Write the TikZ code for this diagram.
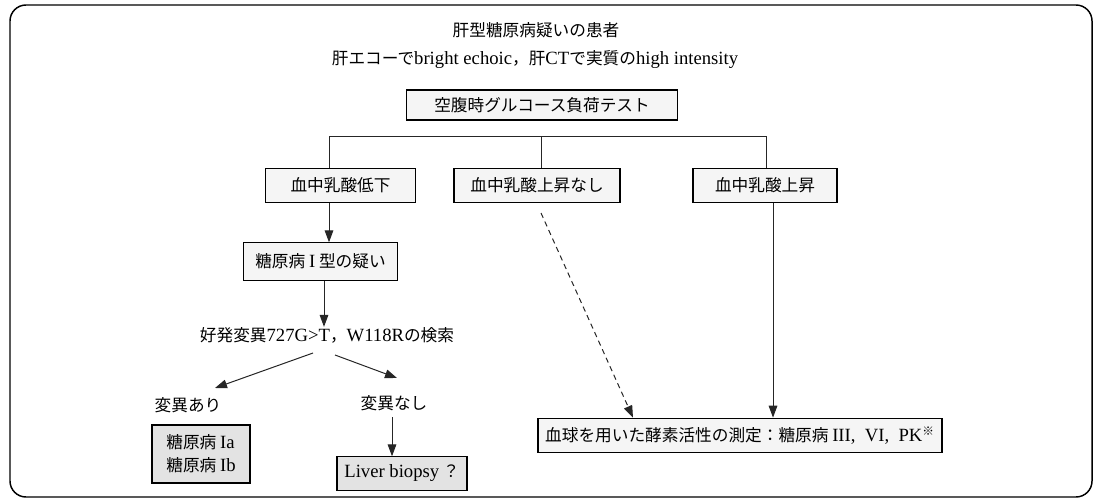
\documentclass[tikz,border=0pt]{standalone}
\usepackage{fontspec}
\setmainfont{Liberation Serif}
\newfontfamily\jp{Noto Sans CJK JP}
\newcommand\lat[1]{{\fontsize{14}{17}\selectfont\rmfamily #1}}
\usetikzlibrary{arrows.meta}
\begin{document}
\begin{tikzpicture}[x=0.75pt,y=-0.75pt,
  every node/.style={font=\fontsize{12.5}{17}\selectfont\jp, inner sep=0pt},
  box/.style={draw=black, line width=0.8pt, fill=gray!8, align=center},
  darkbox/.style={draw=black, line width=0.8pt, fill=gray!22, align=center},
  conn/.style={line width=0.75pt, draw=black!85},
  arr/.style={conn, -{Triangle[length=9pt,width=6.5pt]}},
  darr/.style={conn, dash pattern=on 4pt off 3pt, -{Triangle[length=9pt,width=6.5pt]}}]
\useasboundingbox (0,0) rectangle (1094,499);
\draw[line width=1.1pt, rounded corners=12] (10,5) rectangle (1092,497);

\node (t1) at (536,30) {肝型糖原病疑いの患者};
\node (t2) at (535,60) {肝エコーで\lat{bright echoic}，肝\lat{CT}で実質の\lat{high intensity}};
\node[box, minimum width=203pt, minimum height=22.5pt] (gtt) at (542,105) {空腹時グルコース負荷テスト};

\coordinate (hl) at (329,137);
\coordinate (hm) at (541,137);
\coordinate (hr) at (766,137);

\node[box, minimum width=112pt, minimum height=26pt] (b1) at (340.5,185.5) {血中乳酸低下};
\node[box, minimum width=124.5pt, minimum height=26pt] (b2) at (537,185.5) {血中乳酸上昇なし};
\node[box, minimum width=108pt, minimum height=26pt] (b3) at (765,185.5) {血中乳酸上昇};

\draw[conn] (b1.north -| hl) |- (hr) -- (b3.north -| hr);
\draw[conn] (hm) -- (b2.north -| hm);

\node[box, minimum width=116pt, minimum height=28pt] (g1) at (320.5,261.5) {糖原病 \lat{I} 型の疑い};
\draw[arr] (b1.south -| hl) -- (g1.north -| hl);

\node (srch) at (327,335) {好発変異\lat{727G>T}，\lat{W118R}の検索};
\draw[arr] (g1.south -| 324,0) -- (srch.north -| 324,0);

\node (mut) at (188,405) {変異あり};
\node (nomut) at (394,403) {変異なし};
\coordinate (sl) at (313,353);
\coordinate (sr) at (335,355);
\coordinate (mutend) at (215,388);
\coordinate (nomutend) at (397,378);
\draw[arr] (sl) -- (mutend);
\draw[arr] (sr) -- (nomutend);

\node[darkbox, minimum width=73.5pt, minimum height=43.5pt, align=left] (ia) at (201,454) {糖原病 \lat{Ia}\\糖原病 \lat{Ib}};
\node[darkbox, minimum width=97.5pt, minimum height=25pt] (lb) at (402,473.5) {\lat{Liver biopsy}\ ？};
\coordinate (lbtop) at (392,417);
\draw[arr] (lbtop) -- (lb.north -| lbtop);

\node[box, minimum width=303pt, minimum height=26pt] (enz) at (740,435.5) {血球を用いた酵素活性の測定：糖原病 \lat{III,\ \ VI,\ \ PK}\textsuperscript{※}};
\coordinate (dstart) at (541,213);
\draw[darr] (dstart) -- (enz.north -| 633,0);
\draw[arr] (b3.south -| 773,0) -- (enz.north -| 773,0);
\end{tikzpicture}
\end{document}
